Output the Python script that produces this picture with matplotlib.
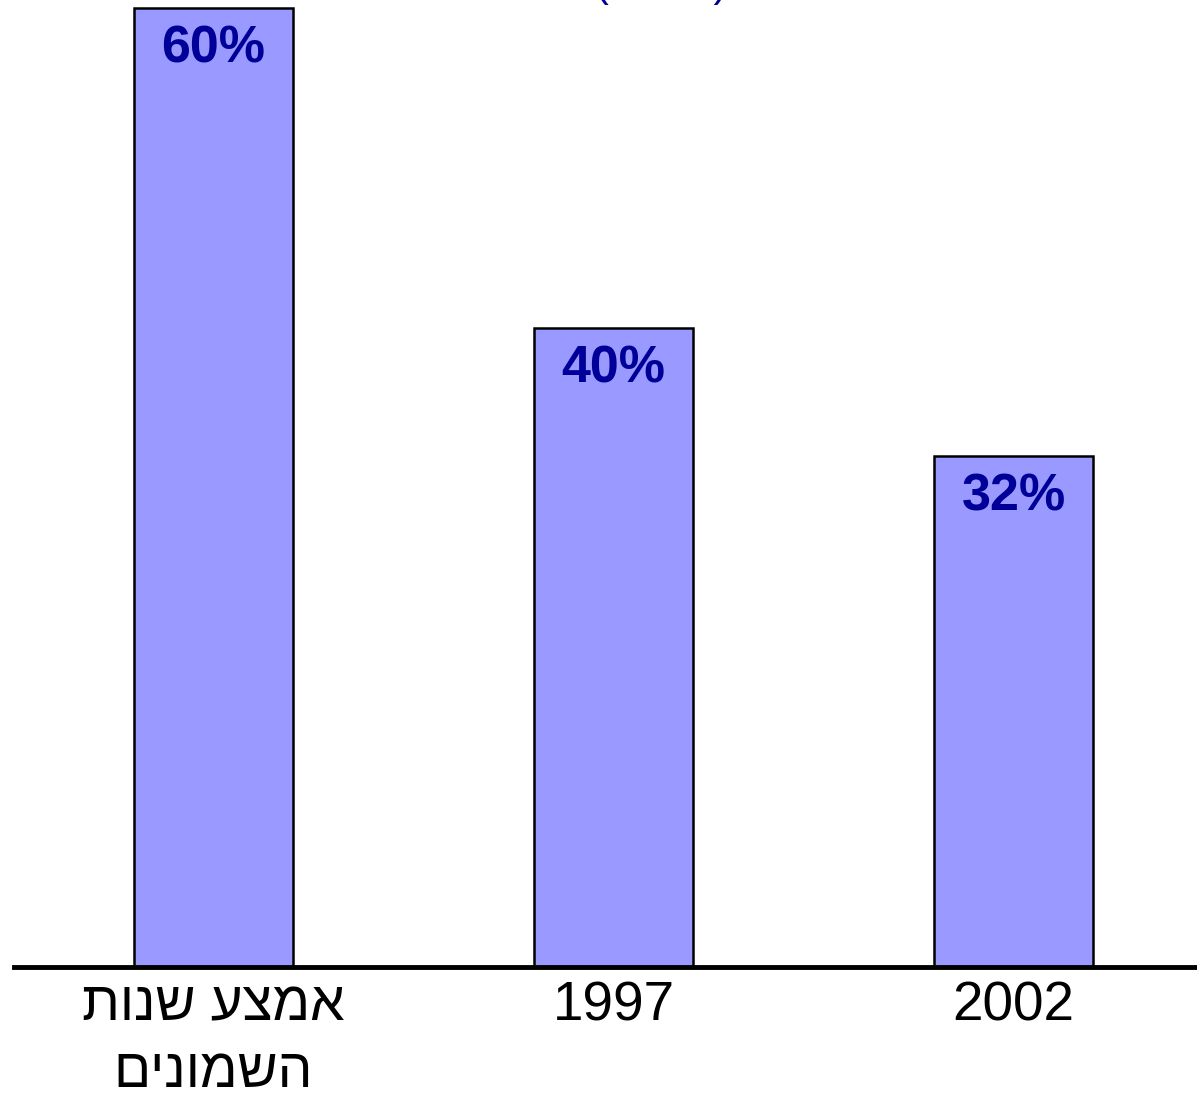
import matplotlib
matplotlib.use("Agg")
from matplotlib import pyplot as plt

# data
categories = ["אמצע שנות\nהשמונים", "1997", "2002"]
values = [60, 40, 32]
value_labels = ["60%", "40%", "32%"]


def rtl(text):
    # matplotlib has no bidi support, so flip each Hebrew line for display
    lines = []
    for line in text.split("\n"):
        if any("\u0590" <= ch <= "\u05ff" for ch in line):
            line = line[::-1]
        lines.append(line)
    return "\n".join(lines)


plt.rcParams["font.family"] = ["Liberation Sans", "DejaVu Sans"]

fig = plt.figure(figsize=(11.97, 10.99), dpi=100)
ax = fig.add_axes([14 / 1197, 0.1201, 1 - 14 / 1197, 0.8799])

x = list(range(len(values)))
bars = ax.bar(x, values, width=0.3975, color="#9999FF", edgecolor="black", linewidth=1.8, zorder=2)

for bar, label in zip(bars, value_labels):
    ax.annotate(
        label,
        xy=(bar.get_x() + bar.get_width() / 2, bar.get_height()),
        xytext=(0, -12),
        textcoords="offset points",
        ha="center",
        va="top",
        fontsize=37.5,
        fontweight="bold",
        color="#000099",
    )

ax.set_xlim(-0.49875, 2.45875)
ax.set_ylim(0, 60.5)
ax.set_xticks(x)
ax.set_xticklabels([rtl(c) for c in categories], fontsize=39.5, linespacing=1.35, va="top")
ax.tick_params(axis="x", length=0, pad=10)
ax.set_yticks([])

for side in ["top", "right", "left"]:
    ax.spines[side].set_visible(False)
ax.spines["bottom"].set_linewidth(3.5)
ax.spines["bottom"].set_zorder(3)

# title mostly cut off at the top of the image, only the parentheses peek in
fig.text(0.552, 1.0036, "(         )", ha="center", va="baseline", fontsize=30, color="#000099")

plt.savefig("out.png", dpi=100)
